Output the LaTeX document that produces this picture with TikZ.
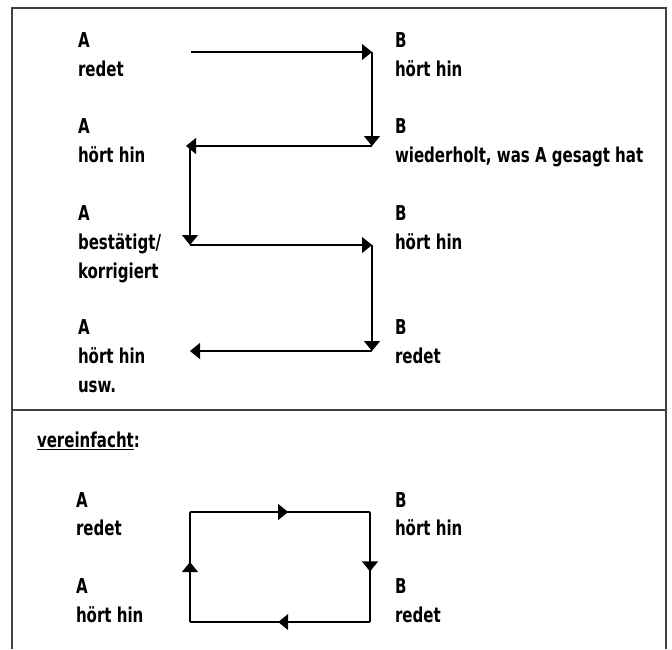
\documentclass[tikz,border=0pt]{standalone}
\usepackage{fontspec}
\setmainfont{DejaVu Sans Condensed}[FakeStretch=0.815]
\usetikzlibrary{arrows.meta,decorations.markings}

\newcommand\lblfont{\fontsize{20.5}{24}\selectfont\bfseries}

\tikzset{
  lbl/.style={anchor=base west, inner sep=0pt, outer sep=0pt, font=\lblfont},
  frameline/.style={draw=black!75, line width=1.6pt},
  flow/.style={draw=black, line width=1.2pt,
    -{Triangle[length=10pt,width=16pt]}},
  loopline/.style={draw=black, line width=1.2pt},
  mid/.style={postaction={decorate}, decoration={markings,
    mark=at position #1 with {\arrow{Triangle[length=10pt,width=16pt]}}}}
}

\begin{document}
\begin{tikzpicture}[x=1pt,y=-1pt]
\useasboundingbox (0,0) rectangle (672,649);

% outer frame and divider
\coordinate (fbl) at (12,649);
\coordinate (ftl) at (12,8);
\coordinate (ftr) at (666,8);
\coordinate (fbr) at (666,649);
\coordinate (dl) at (12,410);
\coordinate (dr) at (666,410);
\draw[frameline] (fbl) -- (ftl) -- (ftr) -- (fbr);
\draw[frameline] (dl) -- (dr);

% labels, upper part
\node[lbl] (a1) at (78,47) {A};
\node[lbl] (a1t) at (78,76) {redet};
\node[lbl] (b1) at (395,47) {B};
\node[lbl] (b1t) at (395,76) {hört hin};

\node[lbl] (a2) at (78,133) {A};
\node[lbl] (a2t) at (78,162) {hört hin};
\node[lbl] (b2) at (395,133) {B};
\node[lbl] (b2t) at (395,162) {wiederholt, was A gesagt hat};

\node[lbl] (a3) at (78,220) {A};
\node[lbl] (a3t) at (78,249) {bestätigt/};
\node[lbl] (a3u) at (78,278) {korrigiert};
\node[lbl] (b3) at (395,220) {B};
\node[lbl] (b3t) at (395,249) {hört hin};

\node[lbl] (a4) at (78,334) {A};
\node[lbl] (a4t) at (78,363) {hört hin};
\node[lbl] (a4u) at (78,392) {usw.};
\node[lbl] (b4) at (395,334) {B};
\node[lbl] (b4t) at (395,363) {redet};

% zig-zag of turns
\coordinate (p1) at (191,52);
\coordinate (p2) at (372,52);
\coordinate (p3) at (372,146);
\coordinate (p4) at (186,146);
\coordinate (p5) at (190,146);
\coordinate (p6) at (190,245);
\coordinate (p7) at (372,245);
\coordinate (p8) at (372,351);
\coordinate (p9) at (190,351);
\draw[flow] (p1) -- (p2);
\draw[flow] (p2) -- (p3);
\draw[flow] (p3) -- (p4);
\draw[flow] (p5) -- (p6);
\draw[flow] (p6) -- (p7);
\draw[flow] (p7) -- (p8);
\draw[flow] (p8) -- (p9);

% lower part
\node[lbl] (ver) at (37,447) {\underline{vereinfacht}:};

\node[lbl] (sa1) at (76,507) {A};
\node[lbl] (sa1t) at (76,535) {redet};
\node[lbl] (sb1) at (395,507) {B};
\node[lbl] (sb1t) at (395,535) {hört hin};
\node[lbl] (sa2) at (76,593) {A};
\node[lbl] (sa2t) at (76,622) {hört hin};
\node[lbl] (sb2) at (395,593) {B};
\node[lbl] (sb2t) at (395,622) {redet};

% closed loop
\coordinate (q1) at (190,512);
\coordinate (q2) at (370,512);
\coordinate (q3) at (370,622);
\coordinate (q4) at (190,622);
\draw[loopline, mid=0.545] (q1) -- (q2);
\draw[loopline, mid=0.54] (q2) -- (q3);
\draw[loopline, mid=0.51] (q3) -- (q4);
\draw[loopline, mid=0.545] (q4) -- (q1);
\end{tikzpicture}
\end{document}
